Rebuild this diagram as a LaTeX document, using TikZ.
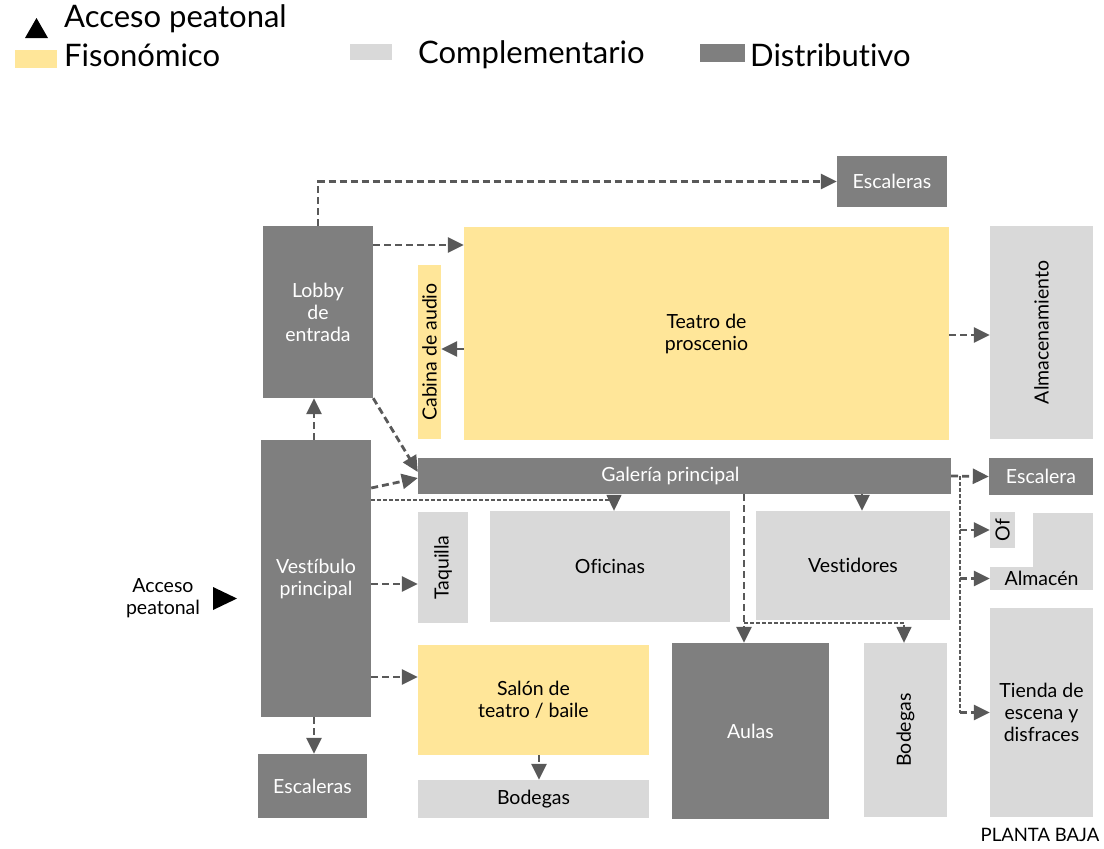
\documentclass[tikz,border=0pt]{standalone}
\usepackage{fontspec}
\setmainfont{Lato}[Ligatures=NoCommon]
\usepackage{xcolor}
\usetikzlibrary{arrows.meta, positioning}

\definecolor{fiso}{HTML}{FFE699}
\definecolor{comp}{HTML}{D9D9D9}
\definecolor{dist}{HTML}{7F7F7F}
\definecolor{flecha}{HTML}{595959}

\tikzset{
    box/.style={inner sep=0pt, align=center, font=\fontsize{19.5}{22}\selectfont},
    fisobox/.style={box, fill=fiso},
    compbox/.style={box, fill=comp},
    distbox/.style={box, fill=dist, text=white},
    vlabel/.style={rotate=90, font=\fontsize{19.5}{22}\selectfont},
    legend/.style={anchor=west, inner sep=0pt, font=\fontsize{31}{34}\selectfont},
    tip/.style={-{Triangle[length=16pt, width=15pt]}},
    flow/.style={flecha, line width=2.8pt, dash pattern=on 7pt off 4pt, tip},
    thinflow/.style={flecha, line width=1.5pt, dash pattern=on 4pt off 2pt},
}

\begin{document}
\begin{tikzpicture}[x=1pt, y=-1pt]
    \useasboundingbox (0,0) rectangle (1104,849);

    % Legend
    \fill[black] (25,38) -- (48,38) -- (36.5,18) -- cycle;
    \node[legend] (legAcceso) at (64,19) {Acceso peatonal};
    \fill[fiso] (15,50) rectangle (57,68);
    \node[legend] (legFiso) at (64,55) {Fisonómico};
    \fill[comp] (350,44) rectangle (392,60);
    \node[legend] (legComp) at (418,55) {Complementario};
    \fill[dist] (700,44) rectangle (745,62);
    \node[legend] (legDist) at (750,55) {Distributivo};

    % Spaces
    \node[distbox, minimum width=110, minimum height=51] (escTop) at (892,181.5) {Escaleras};
    \node[distbox, minimum width=110, minimum height=172] (lobby) at (318,312) {Lobby\\de\\entrada};
    \node[fisobox, minimum width=485, minimum height=213] (teatro) at (706.5,333.5) {Teatro de\\proscenio};
    \node[fisobox, minimum width=23, minimum height=174,
          label={[vlabel]center:Cabina de audio}] (cabina) at (429.5,352) {};
    \node[compbox, minimum width=103, minimum height=213,
          label={[vlabel]center:Almacenamiento}] (almac) at (1041.5,332.5) {};
    \node[distbox, minimum width=533, minimum height=36] (galeria) at (684.5,476) {Galería principal\hspace{28pt}};
    \node[distbox, minimum width=104, minimum height=37] (escalera) at (1041,476.5) {Escalera};
    \node[distbox, minimum width=110, minimum height=277] (vest) at (316,578.5) {Vestíbulo\\principal};
    \node[compbox, minimum width=50, minimum height=111,
          label={[vlabel]center:Taquilla}] (taquilla) at (443,567.5) {};
    \node[compbox, minimum width=240, minimum height=111] (oficinas) at (610,566.5) {Oficinas};
    \node[compbox, minimum width=194, minimum height=109] (vestidores) at (853,565.5) {Vestidores};
    \node[compbox, minimum width=25, minimum height=36,
          label={[vlabel]center:Of}] (of) at (1002.5,530) {};
    \fill[comp] (1033,513) rectangle (1093,568);
    \node[compbox, minimum width=103, minimum height=23] (almacen) at (1041.5,578.5) {Almacén};
    \node[compbox, minimum width=103, minimum height=209] (tienda) at (1041.5,712.5) {Tienda de\\escena y\\disfraces};
    \node[fisobox, minimum width=231, minimum height=110] (salon) at (533.5,700) {Salón de\\teatro / baile};
    \node[compbox, minimum width=231, minimum height=38] (bodegasA) at (533.5,799) {Bodegas};
    \node[distbox, minimum width=157, minimum height=176] (aulas) at (750.5,731) {Aulas};
    \node[compbox, minimum width=83, minimum height=174,
          label={[vlabel]center:Bodegas}] (bodegasB) at (905.5,730) {};
    \node[distbox, minimum width=109, minimum height=64] (escBot) at (312.5,786) {Escaleras};

    % Access
    \node[box] (acceso) at (163,598) {Acceso\\peatonal};
    \fill[black] (213,587) -- (213,610) -- (237,598.5) -- cycle;
    \node[box, font=\fontsize{18.5}{20}\selectfont] (planta) at (1040,835) {PLANTA BAJA};

    % Connectors
    \draw[flow] (lobby.north) |- (escTop.west);
    \draw[flow] (lobby.east |- 0,245) -- (teatro.west |- 0,245);
    \draw[flow] (teatro.west |- 0,349) -- (cabina.east |- 0,349);
    \draw[flow] (teatro.east |- 0,335) -- (almac.west |- 0,335);
    \draw[flow] (lobby.south east) -- (galeria.west |- 0,472);
    \draw[flow] (vest.east |- 0,488) -- (galeria.west |- 0,478);
    \draw[flow] (vest.north -| 314,0) -- (lobby.south -| 314,0);
    \draw[thinflow, tip] (vest.east |- 0,500) -| (oficinas.north -| 614,0);
    \draw[flow] (vest.east |- 0,584) -- (taquilla.west |- 0,584);
    \draw[flow] (vest.east |- 0,677) -- (salon.west |- 0,677);
    \draw[flow] (vest.south -| 314,0) -- (escBot.north -| 314,0);
    \draw[flow] (salon.south -| 539,0) -- (bodegasA.north -| 539,0);
    \draw[flow] (galeria.south -| 744,0) -- (aulas.north -| 744,0);
    \draw[thinflow, tip] (744,623) -| (bodegasB.north -| 904,0);
    \draw[flow] (galeria.south -| 862,0) -- (vestidores.north -| 862,0);
    \draw[flow] (galeria.east) -- (escalera.west);

    % Side bus
    \coordinate (bus) at (960,476);
    \draw[thinflow] (bus) -- (bus |- tienda);
    \draw[flow] (bus |- of) -- (of.west);
    \draw[flow] (bus |- almacen) -- (almacen.west);
    \draw[flow] (bus |- tienda) -- (tienda.west);
\end{tikzpicture}
\end{document}
